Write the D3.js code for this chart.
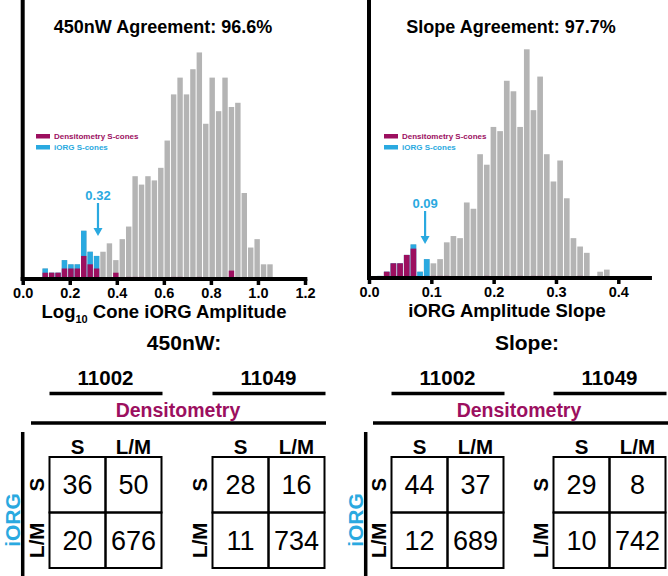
<!DOCTYPE html>
<html><head><meta charset="utf-8">
<script src="https://cdn.jsdelivr.net/npm/d3@7"></script>
<style>body{margin:0;background:#fff} svg{display:block} text{font-family:"Liberation Sans",Arial,Helvetica,sans-serif}</style>
</head><body><svg id="c" width="668" height="576"></svg>
<script>
// ---------- DATA ----------
// Histogram 1: Log10 cone iORG amplitude (450nW)
const ampBinStart = 0.082, ampBinWidth = 0.0273;
const ampAll  = [5,3,3,9,7,7,23,13,11,13,17,9,19,25,49,45,49,47,53,66,88,96,88,100,108,74,96,80,96,82,84,41,15,19,7,7];
const ampIORG = [5,3,3,9,7,7,23,13,11,0,0,0,0,0,0,0,0,0,0,0,0,0,0,0,0,0,0,0,0,0,0,0,0,0,0,0];
const ampDens = [3,3,3,5,5,5,11,7,5,0,0,3,0,1,1,1,0,0,0,0,1,1,0,0,1,0,0,0,0,4,0,0,0,0,0,0];
const ampTicks = [0,0.2,0.4,0.6,0.8,1.0,1.2];
const ampThreshold = 0.32;
// Histogram 2: iORG amplitude slope
const slopeBinStart = 0.0124, slopeBinWidth = 0.0107;
const slopeAll  = [1,3,7,7,11,16,3,9,7,9,17,20,19,36,33,59,54,72,70,94,89,72,109,80,96,59,46,56,38,19,15,12,1,3,4];
const slopeIORG = [1,3,7,7,11,16,3,9,0,0,0,0,0,0,0,0,0,0,0,0,0,0,0,0,0,0,0,0,0,0,0,0,0,0,0];
const slopeDens = [0,3,7,7,11,14,0,1,1,1,1,0,0,0,0,0,1,0,0,1,0,1,0,1,1,0,1,0,0,0,1,0,0,0,0];
const slopeTicks = [0,0.1,0.2,0.3,0.4];
const slopeThreshold = 0.09;
// Titles
const ampTitle = "450nW Agreement: 96.6%";
const slopeTitle = "Slope Agreement: 97.7%";
const legendLabels = ["Densitometry S-cones", "iORG S-cones"];
// Contingency tables [iORG row][Densitometry col], rows/cols: S, L/M
const classLabels = ["S", "L/M"];
const subjects = ["11002", "11049"];
const amp11002 = [[36,50],[20,676]];
const amp11049 = [[28,16],[11,734]];
const slope11002 = [[44,37],[12,689]];
const slope11049 = [[29,8],[10,742]];

// ---------- STYLE ----------
const GRAY = "#b4b4b4", PURPLE = "#9c0f5f", BLUE = "#2aa9e0";
const svg = d3.select("#c");

function drawHist(o) {
  const g = svg.append("g");
  const x = d3.scaleLinear().domain(o.xDomain).range(o.xRange);
  const y = d3.scaleLinear().domain([0, o.yMax]).range([o.base, 0]);
  const bins = o.all.map((v, i) => ({x0: o.start + i * o.width, x1: o.start + (i + 1) * o.width, all: v, iorg: o.iorg[i], dens: o.dens[i]}));
  [["all", GRAY], ["iorg", BLUE], ["dens", PURPLE]].forEach(([k, col]) => {
    g.append("g").selectAll("rect").data(bins.filter(b => b[k] > 0)).join("rect")
      .attr("x", b => x(b.x0) + 0.5).attr("width", b => x(b.x1) - x(b.x0) - 1)
      .attr("y", b => y(b[k])).attr("height", b => o.base - y(b[k])).attr("fill", col);
  });
  // x axis
  const ax = g.append("g").attr("transform", `translate(0,${o.base})`)
    .call(d3.axisBottom(x).tickValues(o.ticks).tickFormat(d3.format(".1f")).tickSize(6).tickSizeOuter(0));
  ax.select(".domain").remove();
  ax.selectAll(".tick line").attr("stroke", "#000").attr("stroke-width", 3.5);
  ax.selectAll(".tick text").attr("font-size", 14.5).attr("font-weight", "bold").attr("fill", "#000")
    .attr("y", 9).attr("dy", "0.71em").attr("font-family", "Liberation Sans, Arial, sans-serif");
  g.append("line").attr("x1", x(0) - 2).attr("x2", x(o.axisEnd)).attr("y1", o.base).attr("y2", o.base)
    .attr("stroke", "#000").attr("stroke-width", 4);
  g.append("line").attr("x1", x(0)).attr("x2", x(0)).attr("y1", 0).attr("y2", o.base + 2)
    .attr("stroke", "#000").attr("stroke-width", 4);
  // title
  g.append("text").attr("x", o.titleX).attr("y", 33).attr("text-anchor", "middle")
    .attr("font-size", 18).attr("font-weight", "bold").text(o.title);
  // x label
  const xl = g.append("text").attr("x", o.labelX).attr("y", o.labelY).attr("text-anchor", "middle")
    .attr("font-size", 18.5).attr("font-weight", "bold");
  o.label.forEach(p => xl.append("tspan").attr("font-size", p.sub ? 11 : 18.5).attr("dy", p.dy || 0).text(p.t));
  // legend
  legendLabels.forEach((t, i) => {
    const col = i === 0 ? PURPLE : BLUE;
    const ly = 136 + i * 11;
    g.append("rect").attr("x", o.legX).attr("y", ly - 2).attr("width", 14).attr("height", 4.5).attr("fill", col);
    g.append("text").attr("x", o.legX + 18).attr("y", ly + 3).attr("font-size", 8).attr("font-weight", "bold")
      .attr("fill", col).text(t);
  });
  // threshold arrow
  const tx = x(o.thr);
  g.append("text").attr("x", tx).attr("y", o.arrowTextY).attr("text-anchor", "middle").attr("font-size", 13)
    .attr("font-weight", "bold").attr("fill", BLUE).text(d3.format(".2f")(o.thr));
  g.append("line").attr("x1", tx).attr("x2", tx).attr("y1", o.arrowY0).attr("y2", o.arrowY1 - 6)
    .attr("stroke", BLUE).attr("stroke-width", 2.2);
  g.append("path").attr("d", `M${tx - 4.5},${o.arrowY1 - 8} L${tx + 4.5},${o.arrowY1 - 8} L${tx},${o.arrowY1} Z`).attr("fill", BLUE);
}

drawHist({xDomain: [0, 1.2], xRange: [22.7, 305], yMax: 133, base: 279,
  start: ampBinStart, width: ampBinWidth, all: ampAll, iorg: ampIORG, dens: ampDens, ticks: ampTicks,
  axisEnd: 1.21, title: ampTitle, titleX: 163, labelX: 164, labelY: 318,
  label: [{t: "Log"}, {t: "10", sub: true, dy: 5}, {t: " Cone iORG Amplitude", dy: -5}],
  legX: 36, thr: ampThreshold, arrowTextY: 200, arrowY0: 203, arrowY1: 236});

drawHist({xDomain: [0, 0.4], xRange: [369, 618.3], yMax: 132.5, base: 278,
  start: slopeBinStart, width: slopeBinWidth, all: slopeAll, iorg: slopeIORG, dens: slopeDens, ticks: slopeTicks,
  axisEnd: 0.454, title: slopeTitle, titleX: 511, labelX: 507, labelY: 317,
  label: [{t: "iORG Amplitude Slope"}],
  legX: 384, thr: slopeThreshold, arrowTextY: 208, arrowY0: 211, arrowY1: 244});

// ---------- TABLES ----------
function drawPanel(o) {
  const g = svg.append("g");
  const cell = 56, top = 457;
  g.append("text").attr("x", o.titleX).attr("y", 350).attr("text-anchor", "middle").attr("font-size", 21)
    .attr("font-weight", "bold").text(o.title);
  g.append("text").attr("x", o.densX).attr("y", 417).attr("text-anchor", "middle").attr("font-size", 19.5)
    .attr("font-weight", "bold").attr("fill", PURPLE).text("Densitometry");
  g.append("line").attr("x1", o.densL0).attr("x2", o.densL1).attr("y1", 423).attr("y2", 423)
    .attr("stroke", "#000").attr("stroke-width", 3.5);
  g.append("line").attr("x1", o.vx).attr("x2", o.vx).attr("y1", 432).attr("y2", 576)
    .attr("stroke", "#000").attr("stroke-width", 3.5);
  g.append("text").attr("transform", `translate(${o.vx - 3},520) rotate(-90)`).attr("text-anchor", "middle")
    .attr("font-size", 21).attr("font-weight", "bold").attr("fill", BLUE).text("iORG");
  o.grids.forEach(gr => {
    const L = gr.left, xc = d3.scaleBand().domain([0, 1]).range([L, L + 2 * cell]);
    const yc = d3.scaleBand().domain([0, 1]).range([top, top + 2 * cell - 1]);
    g.append("text").attr("x", L + cell).attr("y", 385).attr("text-anchor", "middle").attr("font-size", 20.5)
      .attr("font-weight", "bold").text(gr.subject);
    g.append("line").attr("x1", L).attr("x2", Math.min(L + 2 * cell + 1, 668)).attr("y1", 393.5).attr("y2", 393.5)
      .attr("stroke", "#000").attr("stroke-width", 3.5);
    classLabels.forEach((c, j) => {
      g.append("text").attr("x", xc(j) + cell / 2).attr("y", 454).attr("text-anchor", "middle")
        .attr("font-size", 20.5).attr("font-weight", "bold").text(c);
      g.append("text").attr("transform", `translate(${L - 6},${yc(j) + yc.bandwidth() / 2}) rotate(-90)`)
        .attr("text-anchor", "middle").attr("font-size", 20.5).attr("font-weight", "bold").text(c);
    });
    gr.data.forEach((row, r) => row.forEach((v, c) => {
      g.append("rect").attr("x", xc(c)).attr("y", yc(r)).attr("width", xc.bandwidth()).attr("height", yc.bandwidth())
        .attr("fill", "none").attr("stroke", "#000").attr("stroke-width", 2);
      g.append("text").attr("x", xc(c) + xc.bandwidth() / 2).attr("y", yc(r) + yc.bandwidth() / 2 + 9.5)
        .attr("text-anchor", "middle").attr("font-size", 27).text(v);
    }));
  });
}

drawPanel({title: "450nW:", titleX: 184, densX: 178, densL0: 31, densL1: 326, vx: 22.7,
  grids: [{left: 49.5, subject: subjects[0], data: amp11002}, {left: 212.5, subject: subjects[1], data: amp11049}]});
drawPanel({title: "Slope:", titleX: 527, densX: 519, densL0: 373, densL1: 668, vx: 365.7,
  grids: [{left: 391.5, subject: subjects[0], data: slope11002}, {left: 553.5, subject: subjects[1], data: slope11049}]});
</script></body></html>
